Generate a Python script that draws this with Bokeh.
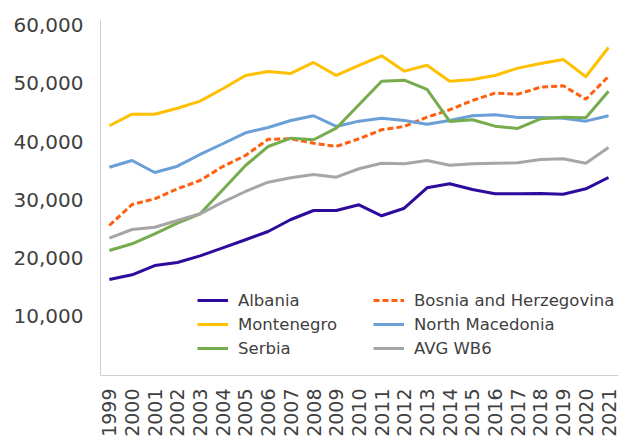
import math
from bokeh.plotting import figure
from bokeh.models import (Range1d, FixedTicker, NumeralTickFormatter, Legend, LegendItem)
from bokeh.embed import file_html
from bokeh.resources import INLINE

years = list(range(1999, 2022))
albania = [16260, 17070, 18670, 19190, 20340, 21720, 23100, 24520, 26590, 28140, 28140, 29120,
           27230, 28530, 32050, 32730, 31750, 31010, 31010, 31060, 30940, 31870, 33820]
bosnia = [25560, 29170, 30150, 31870, 33300, 35710, 37600, 40390, 40480, 39720, 39150, 40480,
          42030, 42600, 44200, 45470, 47070, 48330, 48150, 49360, 49600, 47290, 51200]
montenegro = [42720, 44710, 44710, 45740, 46950, 49080, 51370, 52060, 51720, 53610, 51370, 53090,
              54760, 52110, 53140, 50390, 50680, 51370, 52630, 53440, 54130, 51150, 56190]
north_macedonia = [35590, 36740, 34680, 35760, 37780, 39620, 41510, 42420, 43630, 44440, 42600, 43510,
                   44020, 43630, 42990, 43630, 44440, 44610, 44140, 44140, 44020, 43510, 44440]
serbia = [21250, 22410, 24130, 25950, 27570, 31700, 35880, 39150, 40580, 40310, 42300, 46330,
          50390, 50560, 48960, 43460, 43750, 42650, 42250, 43920, 44200, 44090, 48670]
avg_wb6 = [23370, 24870, 25260, 26420, 27570, 29570, 31410, 33010, 33770, 34330, 33870, 35320,
           36280, 36180, 36740, 35930, 36180, 36280, 36350, 36920, 37040, 36280, 38980]
y_ticks = [10000, 20000, 30000, 40000, 50000, 60000]

FONT = "DejaVu Sans"
TXT = "#404040"

p = figure(width=626, height=442, output_backend="svg", toolbar_location=None,
           x_range=Range1d(1998.61, 2021.44), y_range=Range1d(-250, 61000),
           min_border_left=100, min_border_right=8, min_border_top=19, min_border_bottom=67)
p.outline_line_color = None
p.xgrid.visible = False
p.ygrid.visible = False

for ax in (p.xaxis[0], p.yaxis[0]):
    ax.axis_line_color = "#D0D0D0"
    ax.axis_line_width = 1
    ax.major_tick_line_color = None
    ax.minor_tick_line_color = None
    ax.major_tick_out = 0
    ax.major_tick_in = 0
    ax.major_label_text_font = FONT
    ax.major_label_text_color = TXT

p.yaxis[0].ticker = FixedTicker(ticks=y_ticks)
p.yaxis[0].formatter = NumeralTickFormatter(format="0,0")
p.yaxis[0].major_label_text_font_size = "20px"
p.yaxis[0].major_label_standoff = 17

p.xaxis[0].ticker = FixedTicker(ticks=years)
p.xaxis[0].major_label_orientation = math.pi / 2
p.xaxis[0].major_label_text_font_size = "19px"
p.xaxis[0].major_label_standoff = 13

r_alb = p.line(years, albania, line_color="#2E0B9C", line_width=3)
r_bih = p.line(years, bosnia, line_color="#FF6010", line_width=3, line_dash="6 3")
r_mne = p.line(years, montenegro, line_color="#FFC000", line_width=3)
r_mkd = p.line(years, north_macedonia, line_color="#6A9FD8", line_width=3)
r_srb = p.line(years, serbia, line_color="#76AB4E", line_width=3)
r_avg = p.line(years, avg_wb6, line_color="#A6A6A6", line_width=3)


def make_legend(items, loc):
    lg = Legend(items=items, location=loc, orientation="vertical",
                padding=0, margin=0, spacing=4,
                glyph_width=31, glyph_height=20, label_height=20,
                label_standoff=10,
                label_text_font=FONT, label_text_font_size="16.5px",
                label_text_color=TXT,
                border_line_color=None, background_fill_alpha=0)
    return lg


leg1 = make_legend([LegendItem(label="Albania", renderers=[r_alb]),
                    LegendItem(label="Montenegro", renderers=[r_mne]),
                    LegendItem(label="Serbia", renderers=[r_srb])], (97, 17))
leg2 = make_legend([LegendItem(label="Bosnia and Herzegovina", renderers=[r_bih]),
                    LegendItem(label="North Macedonia", renderers=[r_mkd]),
                    LegendItem(label="AVG WB6", renderers=[r_avg])], (273, 17))
p.add_layout(leg1, "center")
p.add_layout(leg2, "center")

open("out.html", "w").write(file_html(p, INLINE))
